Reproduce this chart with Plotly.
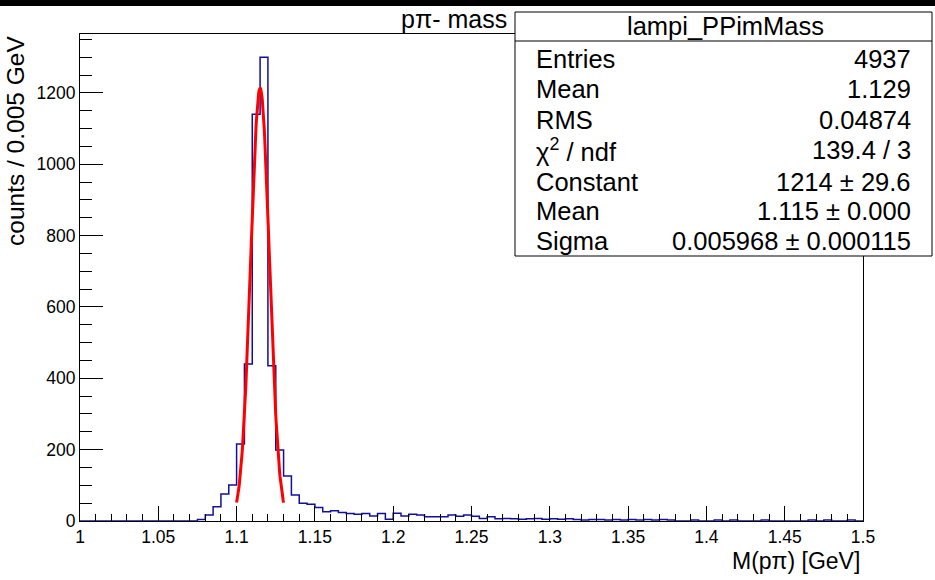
import numpy as np
import plotly.graph_objects as go

# ---------------- data ----------------
bin_low = 1.0
bin_width = 0.005
n_bins = 100
# bin contents (bin k covers [1+0.005k, 1+0.005(k+1)])
counts = [
    0, 0, 0, 0, 0, 0, 0, 0, 0, 0,            # 1.000 - 1.050
    0, 0, 0, 0, 0, 4, 17, 40, 76, 101,       # 1.050 - 1.100
    216, 440, 1140, 1300, 435, 199, 126, 73, 50, 47,   # 1.100 - 1.150
    38, 26, 29, 24, 21, 19, 21, 14, 21, 5,   # 1.150 - 1.200
    22, 14, 19, 17, 12, 12, 12, 17, 13, 17,  # 1.200 - 1.250
    13, 7, 12, 6, 7, 6, 5, 6, 7, 5,          # 1.250 - 1.300
    6, 5, 6, 4, 3, 4, 4, 3, 4, 3,            # 1.300 - 1.350
    4, 3, 4, 3, 4, 3, 0, 0, 3, 0,            # 1.350 - 1.400
    0, 3, 0, 3, 0, 0, 0, 3, 0, 0,            # 1.400 - 1.450
    0, 0, 0, 3, 0, 3, 0, 0, 3, 0,            # 1.450 - 1.500
]

# Gaussian fit parameters (from the stats box)
fit_constant = 1214.0
fit_mean = 1.115
fit_sigma = 0.005968
fit_range = [1.1, 1.13]

x_tick_vals = [1.0, 1.05, 1.1, 1.15, 1.2, 1.25, 1.3, 1.35, 1.4, 1.45, 1.5]
x_tick_text = ["1", "1.05", "1.1", "1.15", "1.2", "1.25", "1.3", "1.35", "1.4", "1.45", "1.5"]
y_tick_vals = [0, 200, 400, 600, 800, 1000, 1200]

stats_title = "lampi_PPimMass"
stats_labels = ["Entries", "Mean", "RMS", "χ<sup>2</sup> / ndf", "Constant", "Mean", "Sigma"]
stats_values = ["4937", "1.129", "0.04874", "139.4 / 3", "1214 ± 29.6", "1.115 ± 0.000",
                "0.005968 ± 0.000115"]

title_text = "pπ- mass"
x_title = "M(pπ) [GeV]"
y_title = "counts / 0.005 GeV"

# ---------------- geometry helpers ----------------
W, H = 935, 580
PL, PR, PT, PB = 80, 863, 34, 521   # plot area in pixels


def X(px):
    return (px - PL) / (PR - PL)


def Y(py):
    return (PB - py) / (PB - PT)


edges = bin_low + bin_width * np.arange(n_bins + 1)
hist_x = list(edges)
hist_y = list(counts) + [counts[-1]]

xf = np.linspace(fit_range[0], fit_range[1], 120)
yf = fit_constant * np.exp(-0.5 * ((xf - fit_mean) / fit_sigma) ** 2)

FONT = "Liberation Sans, Arial, Helvetica, sans-serif"
TICK_SIZE = 17.5
STAT_SIZE = 25.5

fig = go.Figure()
fig.add_trace(go.Scatter(x=hist_x, y=hist_y, mode="lines", line_shape="hv",
                         line=dict(color="#10109a", width=1.5), hoverinfo="skip",
                         showlegend=False))
fig.add_trace(go.Scatter(x=xf, y=yf, mode="lines",
                         line=dict(color="#ff0000", width=3), hoverinfo="skip",
                         showlegend=False))

ymax = 1.05 * max(counts)

fig.update_layout(
    width=W, height=H,
    margin=dict(l=PL, r=W - PR, t=PT, b=H - PB, pad=0),
    paper_bgcolor="white", plot_bgcolor="white",
    font=dict(family=FONT, color="black"),
    showlegend=False,
    xaxis=dict(range=[1.0, 1.5], tickvals=x_tick_vals, ticktext=x_tick_text,
               ticks="inside", ticklen=15, tickwidth=1, tickcolor="black",
               showline=True, linecolor="black", linewidth=1, mirror=True,
               showgrid=False, zeroline=False,
               tickfont=dict(size=TICK_SIZE, family=FONT),
               minor=dict(ticks="inside", ticklen=7.5, tickwidth=1, tickcolor="black",
                          dtick=0.01, tick0=1.0, showgrid=False)),
    yaxis=dict(range=[0, ymax], tickvals=y_tick_vals,
               ticks="inside", ticklen=23, tickwidth=1, tickcolor="black",
               showline=True, linecolor="black", linewidth=1, mirror=True,
               showgrid=False, zeroline=False,
               tickfont=dict(size=TICK_SIZE, family=FONT),
               minor=dict(ticks="inside", ticklen=12, tickwidth=1, tickcolor="black",
                          dtick=50, tick0=0, showgrid=False)),
)

shapes = []
# dark band at the very top of the picture
shapes.append(dict(type="rect", xref="paper", yref="paper",
                   x0=X(0), x1=X(W), y0=Y(6), y1=Y(0),
                   fillcolor="black", line=dict(width=0), layer="above"))
# stats box
shapes.append(dict(type="rect", xref="paper", yref="paper",
                   x0=X(515), x1=X(932), y0=Y(256), y1=Y(12),
                   fillcolor="white", line=dict(color="black", width=1), layer="above"))
shapes.append(dict(type="line", xref="paper", yref="paper",
                   x0=X(515), x1=X(932), y0=Y(41), y1=Y(41),
                   line=dict(color="black", width=1), layer="above"))
fig.update_layout(shapes=shapes)

ann = []
ann.append(dict(text=title_text, xref="paper", yref="paper", x=X(509), y=Y(19),
                xanchor="right", yanchor="middle", showarrow=False,
                font=dict(size=25, family=FONT)))
ann.append(dict(text=x_title, xref="paper", yref="paper", x=X(862), y=Y(561),
                xanchor="right", yanchor="middle", showarrow=False,
                font=dict(size=23, family=FONT)))
ann.append(dict(text=y_title, xref="paper", yref="paper", x=X(15), y=Y(34),
                xanchor="center", yanchor="top", textangle=-90, showarrow=False,
                font=dict(size=24.5, family=FONT)))
ann.append(dict(text=stats_title, xref="paper", yref="paper", x=X(725), y=Y(26),
                xanchor="center", yanchor="middle", showarrow=False,
                font=dict(size=STAT_SIZE, family=FONT)))
row_y = [59, 89, 120, 150, 182, 211, 241]
for lab, val, ry in zip(stats_labels, stats_values, row_y):
    ann.append(dict(text=lab, xref="paper", yref="paper", x=X(534), y=Y(ry),
                    xanchor="left", yanchor="middle", showarrow=False,
                    font=dict(size=STAT_SIZE, family=FONT)))
    ann.append(dict(text=val, xref="paper", yref="paper", x=X(913), y=Y(ry),
                    xanchor="right", yanchor="middle", showarrow=False,
                    font=dict(size=STAT_SIZE, family=FONT)))
fig.update_layout(annotations=ann)

fig.write_html("out.html", config={"displayModeBar": False},
               post_script="document.body.style.margin='0';")
